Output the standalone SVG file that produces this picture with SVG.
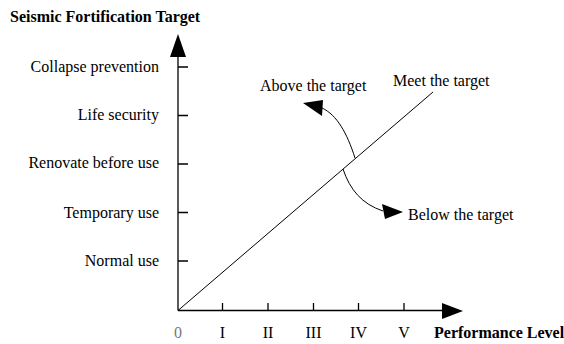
<svg xmlns="http://www.w3.org/2000/svg" width="564" height="344" viewBox="0 0 564 344">
  <style>
    text { font-family: "Liberation Serif", "Times New Roman", serif; font-size: 16px; fill: #000; }
    .bold { font-weight: bold; }
    .lvl { text-anchor: end; }
    .roman { text-anchor: middle; }
    .axis { stroke: #000; stroke-width: 1.3; fill: none; }
    .thin { stroke: #000; stroke-width: 1; fill: none; }
    .head { fill: #000; stroke: none; }
  </style>
  <rect width="564" height="344" fill="#fff"/>

  <!-- axis titles -->
  <text class="bold" x="10" y="22">Seismic Fortification Target</text>
  <text class="bold" x="434" y="338">Performance Level</text>

  <!-- axes -->
  <g id="axes">
    <line class="axis" x1="178" y1="310.5" x2="178" y2="55"/>
    <polygon class="head" points="178,34 170,57 186,57"/>
    <line class="axis" x1="178" y1="310.5" x2="444" y2="310.5"/>
    <polygon class="head" points="463,311 442,303 442,319"/>
  </g>

  <!-- vertical axis ticks and levels -->
  <g id="y-levels">
    <path class="axis" d="M178 67H188M178 115.5H188M178 164H188M178 212.5H188M178 261H188"/>
    <text class="lvl" x="159" y="72">Collapse prevention</text>
    <text class="lvl" x="159" y="120">Life security</text>
    <text class="lvl" x="159" y="168">Renovate before use</text>
    <text class="lvl" x="159" y="218">Temporary use</text>
    <text class="lvl" x="159" y="266">Normal use</text>
  </g>

  <!-- horizontal axis ticks and levels -->
  <g id="x-levels">
    <path class="axis" d="M222.5 310.5V303M268 310.5V303M313.5 310.5V303M358.5 310.5V303M404 310.5V303"/>
    <text class="roman" x="178" y="338" style="fill:#777">0</text>
    <text class="roman" x="222.5" y="338">I</text>
    <text class="roman" x="268" y="338">II</text>
    <text class="roman" x="313.5" y="338">III</text>
    <text class="roman" x="358.5" y="338">IV</text>
    <text class="roman" x="404" y="338">V</text>
  </g>

  <!-- target line -->
  <g id="meet">
    <line class="thin" x1="178" y1="310.5" x2="433" y2="92"/>
    <text x="393" y="86">Meet the target</text>
  </g>

  <!-- connectors -->
  <g id="connectors">
    <path class="thin" d="M355 158 C347 133 337 115 322 108"/>
    <polygon class="head" points="303,103 323,100 322,116"/>
    <path class="thin" d="M343 169 C350 190 362 204 383 211"/>
    <polygon class="head" points="403,212 382,204 385,219"/>
  </g>

  <g id="above">
    <text x="260" y="91">Above the target</text>
  </g>
  <g id="below">
    <text x="408" y="220">Below the target</text>
  </g>
</svg>
